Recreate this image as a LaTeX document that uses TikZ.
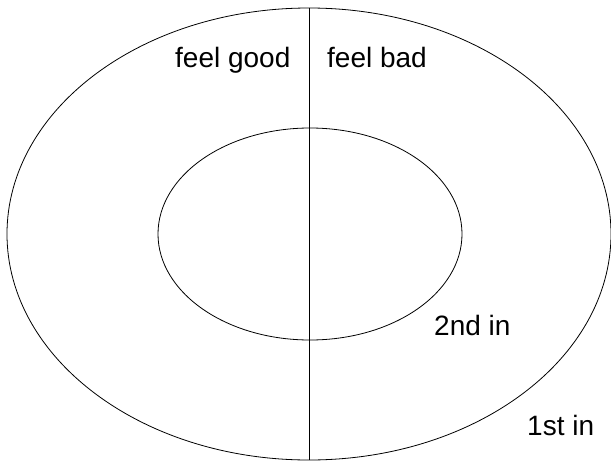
\documentclass[tikz,border=0pt]{standalone}
\usepackage{fontspec}
\setmainfont{Liberation Sans}
\usetikzlibrary{shapes.geometric}
\tikzset{
  ring/.style={draw, ellipse, line width=0.8pt, inner sep=0pt},
  lbl/.style={anchor=base west, inner sep=0pt, font=\fontsize{28}{34}\selectfont}
}
\begin{document}
\begin{tikzpicture}[x=1pt, y=-1pt]
    \useasboundingbox (0,0) rectangle (611,461);
    % Elipses
    \node[ring, minimum width=604pt, minimum height=452pt] (outer) at (309,234) {};
    \node[ring, minimum width=304pt, minimum height=212pt] (inner) at (310,234) {};
    % Division
    \draw[line width=0.8pt] (outer.north) -- (outer.south);
    % Textos
    \node[lbl] (good) at (175,67) {feel good};
    \node[lbl] (bad) at (327,67) {feel bad};
    \node[lbl] (second) at (434,335) {2nd in};
    \node[lbl] (first) at (527,435) {1st in};
\end{tikzpicture}
\end{document}
